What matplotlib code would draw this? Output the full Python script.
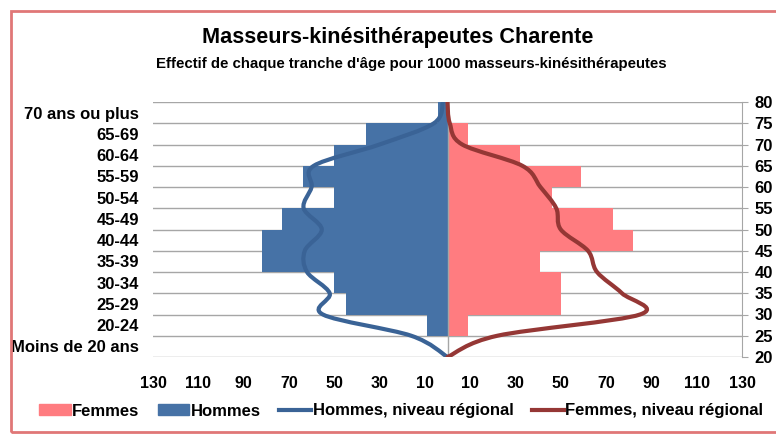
import numpy as np
import matplotlib
matplotlib.use("Agg")
import matplotlib.pyplot as plt
from matplotlib.path import Path
from matplotlib.patches import PathPatch, Rectangle
from matplotlib.lines import Line2D
import matplotlib.patches as mpatches

plt.rcParams['font.family'] = ['Liberation Sans', 'DejaVu Sans']
plt.rcParams['font.weight'] = 'bold'

# age groups, bottom to top
categories = ["Moins de 20 ans", "20-24", "25-29", "30-34", "35-39", "40-44",
              "45-49", "50-54", "55-59", "60-64", "65-69", "70 ans ou plus"]
hommes = [0, 9, 45, 50, 82, 82, 73, 50, 64, 50, 36, 4]
femmes = [0, 9, 50, 50, 41, 82, 73, 46, 59, 32, 9, 0]

# regional level (smoothed lines on the secondary axis, 20..80)
ages_reg = [20, 25, 30, 35, 40, 45, 50, 55, 60, 65, 70, 75, 80]
hommes_reg = [0, 16, 55, 52, 62, 63, 55.5, 63.5, 60, 59, 30, 6, 2]
femmes_reg = [0, 22, 85, 77, 66, 62, 50, 48, 41, 33, 6.5, 1, 0]

xticks = [-130, -110, -90, -70, -50, -30, -10, 10, 30, 50, 70, 90, 110, 130]

c_f = '#FF7C80'
c_h = '#4672A6'
c_hl = '#3A6396'
c_fl = '#953735'
grid_c = '#A6A6A6'


def smooth_path(xs, ys):
    # bezier through the points (catmull-rom style, like a spreadsheet "smoothed line")
    pts = np.column_stack([xs, ys]).astype(float)
    verts = [pts[0]]
    codes = [Path.MOVETO]
    n = len(pts)
    for i in range(n - 1):
        p0 = pts[i - 1] if i > 0 else pts[i]
        p1 = pts[i]
        p2 = pts[i + 1]
        p3 = pts[i + 2] if i + 2 < n else pts[i + 1]
        c1 = p1 + (p2 - p0) / 6.0
        c2 = p2 - (p3 - p1) / 6.0
        verts += [c1, c2, p2]
        codes += [Path.CURVE4] * 3
    return Path(verts, codes)


fig = plt.figure(figsize=(7.76, 4.42), dpi=100)
ax = fig.add_axes([153 / 776, 1 - 357 / 442, (742 - 153) / 776, (357 - 102) / 442])

y = np.arange(len(categories))
ax.barh(y, [-v for v in hommes], height=1.0, color=c_h, label='Hommes', zorder=2)
ax.barh(y, femmes, height=1.0, color=c_f, label='Femmes', zorder=2)
ax.axvline(0, color=grid_c, lw=1, zorder=3)

ax.set_xlim(-130, 130)
ax.set_ylim(-0.5, len(categories) - 0.5)
ax.set_yticks(y)
ax.set_yticklabels(categories, fontsize=12)
ax.set_yticks(np.arange(-0.5, len(categories)), minor=True)
ax.grid(which='minor', axis='y', color=grid_c, lw=1)
ax.set_axisbelow(True)
ax.tick_params(axis='y', which='both', length=0, pad=10)
ax.set_xticks(xticks)
ax.set_xticklabels([str(abs(v)) for v in xticks], fontsize=11.5)
ax.tick_params(axis='x', length=0, pad=14)
for s in ax.spines.values():
    s.set_visible(False)

ax2 = ax.twinx()
ax2.set_ylim(20, 80)
ax2.set_yticks(np.arange(20, 81, 5))
ax2.tick_params(axis='y', labelsize=12, length=4, color=grid_c, pad=5)
for s in ['left', 'top', 'bottom']:
    ax2.spines[s].set_visible(False)
ax2.spines['right'].set_color(grid_c)

ax2.add_patch(PathPatch(smooth_path([-v for v in hommes_reg], ages_reg), fill=False,
                        edgecolor=c_hl, lw=3, capstyle='round', zorder=4))
ax2.add_patch(PathPatch(smooth_path(femmes_reg, ages_reg), fill=False,
                        edgecolor=c_fl, lw=3, capstyle='round', zorder=4))

fig.text(398 / 776, 1 - 38 / 442, 'Masseurs-kinésithérapeutes Charente',
         ha='center', va='center', fontsize=15.6)
fig.text(411 / 776, 1 - 64 / 442, "Effectif de chaque tranche d'âge pour 1000 masseurs-kinésithérapeutes",
         ha='center', va='center', fontsize=10.8)

handles = [mpatches.Patch(color=c_f, label='Femmes'),
           mpatches.Patch(color=c_h, label='Hommes'),
           Line2D([], [], color=c_hl, lw=3, label='Hommes, niveau régional'),
           Line2D([], [], color=c_fl, lw=3, label='Femmes, niveau régional')]
fig.legend(handles=handles, loc='center', bbox_to_anchor=(401 / 776, 1 - 411 / 442),
           ncol=4, frameon=False, fontsize=12, handlelength=1.9, handleheight=0.6,
           handletextpad=0.1, columnspacing=1.1)

fig.patches.append(Rectangle((11 / 776, 1 - 432 / 442), 800 / 776, 421 / 442,
                             transform=fig.transFigure, fill=False,
                             edgecolor='#E07777', lw=2))

fig.savefig('out.png', dpi=100)
